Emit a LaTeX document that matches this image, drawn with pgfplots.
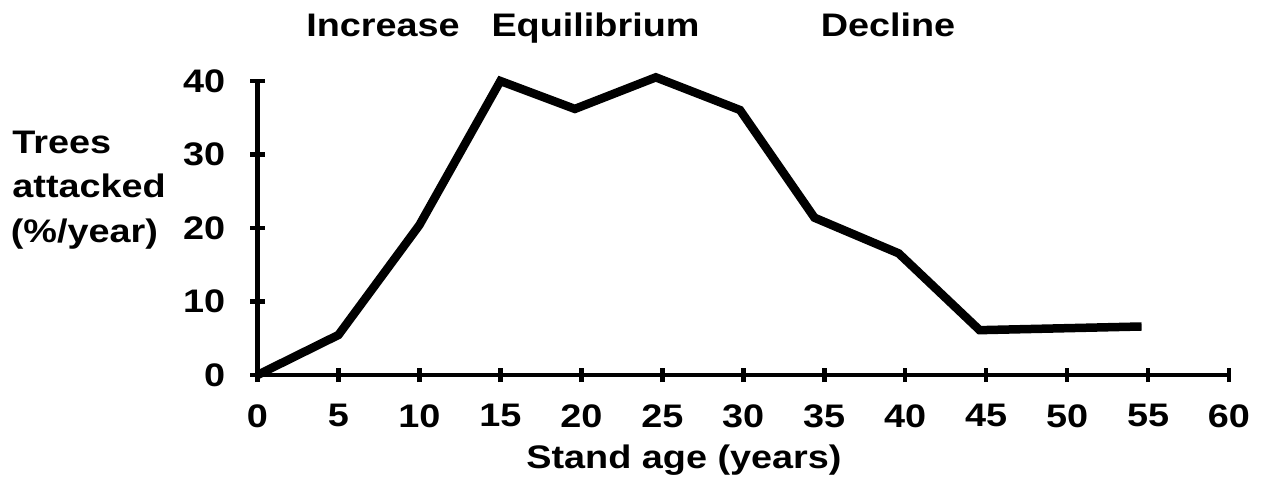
\documentclass[border=0pt]{standalone}
\usepackage{fontspec}
\setmainfont[FakeStretch=1.16]{Liberation Sans}
\usepackage{pgfplots}
\pgfplotsset{compat=1.18}
\begin{document}
\fontsize{16.3bp}{19bp}\selectfont\bfseries
\begin{tikzpicture}
\useasboundingbox (-128.75bp,-59bp) rectangle (502.25bp,187.5bp);
\begin{axis}[
  at={(0,0)}, anchor=south west,
  scale only axis, width=485.75bp, height=147bp,
  xmin=0, xmax=60, ymin=0, ymax=40,
  axis lines*=left,
  xtick={0,5,...,60}, ytick={0,10,...,40},
  tick align=center, major tick length=7bp,
  every tick/.style={black, line width=2.3bp},
  axis line style={line width=2bp, black},
  /pgf/number format/assume math mode=true,
  tick label style={font=\fontsize{16.3bp}{19bp}\selectfont\bfseries},
  yticklabel style={anchor=east, inner sep=0pt, xshift=-12.5bp},
  xticklabel style={anchor=north, inner sep=0pt, yshift=-11bp},
  clip=false,
]
\addplot[black, line width=4.25bp, line join=miter, line cap=butt] coordinates {
  (0,0) (5,5.45) (10,20.4) (15,40.0) (19.6,36.2) (24.6,40.5)
  (29.8,36.05) (34.4,21.4) (39.6,16.55) (44.6,6.1) (54.6,6.6)
};
\end{axis}
\node[anchor=base] at (62.75bp,169.15bp) {Increase};
\node[anchor=base] at (169bp,169.15bp) {Equilibrium};
\node[anchor=base] at (315.25bp,169.15bp) {Decline};
\node[anchor=base west, inner sep=0pt] at (-122.75bp,110.5bp) {Trees};
\node[anchor=base west, inner sep=0pt] at (-122.75bp,88.5bp) {attacked};
\node[anchor=base west, inner sep=0pt] at (-123.5bp,66bp) {(\%/year)};
\node[anchor=base] at (213.25bp,-46.5bp) {Stand age (years)};
\end{tikzpicture}
\end{document}
